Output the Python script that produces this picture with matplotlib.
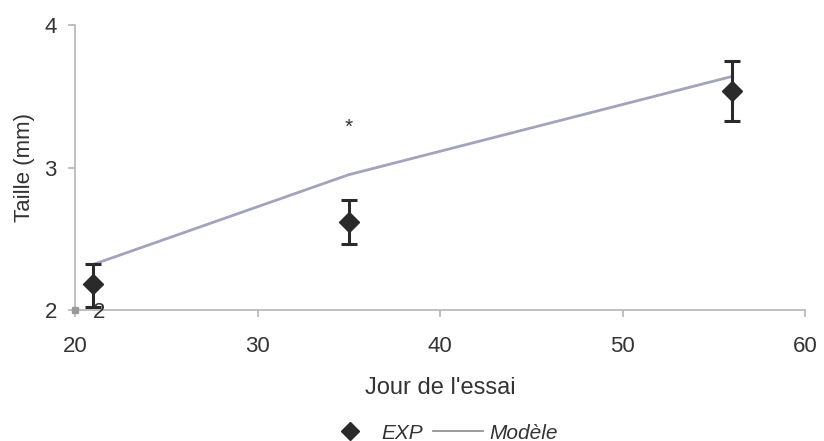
import matplotlib
matplotlib.use("Agg")
import matplotlib.pyplot as plt
from matplotlib.lines import Line2D

plt.rcParams['font.family'] = ['Liberation Sans', 'DejaVu Sans']

# ==== data ====
jour = [21, 35, 56]
exp_taille = [2.18, 2.62, 3.54]
exp_err_haut = [2.32, 2.77, 3.75]
exp_err_bas = [2.02, 2.46, 3.33]
modele_taille = [2.32, 2.95, 3.64]
etoile_x, etoile_y = 35, 3.28

err_low = [m - b for m, b in zip(exp_taille, exp_err_bas)]
err_high = [h - m for m, h in zip(exp_taille, exp_err_haut)]

fig = plt.figure(figsize=(8.24, 4.41), dpi=100)
ax = fig.add_axes([0.091, 0.297, 0.886, 0.646])

# model line
ax.plot(jour, modele_taille, color="#a3a3bd", lw=2, zorder=2)

# experimental points with error bars
ax.errorbar(jour, exp_taille, yerr=[err_low, err_high], fmt="D", color="#2a2a2a",
            ms=10, elinewidth=2.2, capsize=6, capthick=2.2, zorder=3)

# significance star
ax.text(etoile_x, etoile_y, "*", ha="center", va="center", fontsize=15, color="#333333")

# stray origin marker and label
ax.plot([20], [2], "s", color="#9a9a9a", ms=5, clip_on=False, zorder=4)
ax.text(21.3, 1.98, "2", fontsize=16, color="#333333", ha="center", va="center")

ax.set_xlim(20, 60)
ax.set_ylim(2, 4)
ax.set_xticks([20, 30, 40, 50, 60])
ax.set_yticks([2, 3, 4])
for s in ["top", "right"]:
    ax.spines[s].set_visible(False)
for s in ["left", "bottom"]:
    ax.spines[s].set_color("#b5b5b5")
    ax.spines[s].set_linewidth(1.2)
ax.tick_params(colors="#b5b5b5", labelcolor="#333333", labelsize=16, length=5, width=1.2)
ax.tick_params(axis="x", pad=14)
ax.tick_params(axis="y", pad=8)

ax.set_xlabel("Jour de l'essai", fontsize=17, color="#333333", labelpad=14)
ax.set_ylabel("Taille (mm)", fontsize=16, color="#333333", labelpad=7)

handles = [Line2D([], [], marker="D", ls="none", color="#2a2a2a", ms=9),
           Line2D([], [], color="#8a8a8a", lw=1.2)]
leg = fig.legend(handles, ["EXP", "Modèle"], loc="center", bbox_to_anchor=(0.536, 0.018),
                 ncol=2, frameon=False, prop={"size": 15, "style": "italic"},
                 handlelength=2.4, handletextpad=0.3, columnspacing=0.5)
for t in leg.get_texts():
    t.set_color("#333333")

fig.savefig("out.png", dpi=100)
